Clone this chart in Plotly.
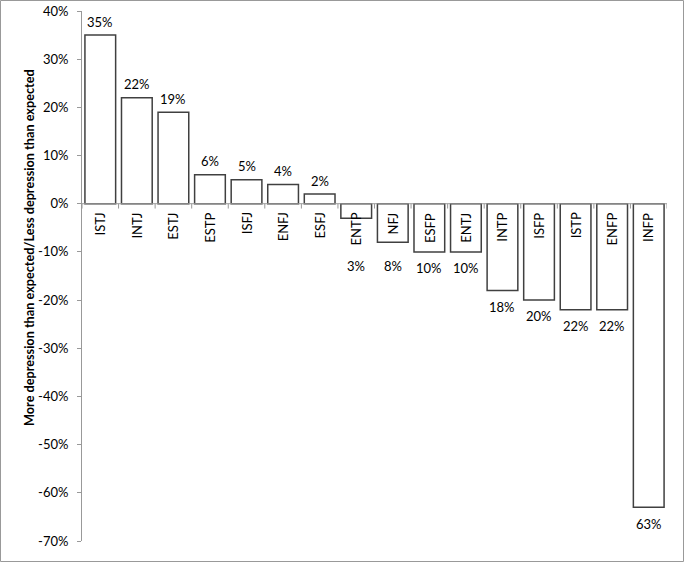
import plotly.graph_objects as go

types = ["ISTJ", "INTJ", "ESTJ", "ESTP", "ISFJ", "ENFJ", "ESFJ", "ENTP",
         "NFJ", "ESFP", "ENTJ", "INTP", "ISFP", "ISTP", "ENFP", "INFP"]
values = [35, 22, 19, 6, 5, 4, 2, -3, -8, -10, -10, -18, -20, -22, -22, -63]
y_ticks = [40, 30, 20, 10, 0, -10, -20, -30, -40, -50, -60, -70]
y_title = "More depression than expected/Less depression than expected"

W, H = 685, 563
L, R, T, B = 82, 18, 11, 22
FONT = "Lato, 'Open Sans', sans-serif"
xs = list(range(len(types)))
pw, ph = W - L - R, H - T - B

fig = go.Figure()
fig.add_trace(go.Bar(
    x=xs, y=values, width=0.84,
    marker=dict(color="white", line=dict(color="#404040", width=1.5)),
    hoverinfo="skip",
))

ann = []
for i, (t, v) in enumerate(zip(types, values)):
    ann.append(dict(x=i, y=0, xref="x", yref="y", text=t, textangle=-90,
                    showarrow=False, xanchor="center", yanchor="top", yshift=-7,
                    font=dict(family=FONT, size=13, color="#000")))
    if v >= 0:
        ly = v + 2.8
    else:
        ly = min(v - 3.4, -13)
    ann.append(dict(x=i, y=ly, xref="x", yref="y", text=f"{abs(v)}%",
                    showarrow=False, xanchor="center", yanchor="middle",
                    font=dict(family=FONT, size=13, color="#000")))

ann.append(dict(x=-(L - 29) / pw, y=(H - B - 248) / ph, xref="paper", yref="paper",
                text=y_title, textangle=-90, showarrow=False,
                xanchor="center", yanchor="middle",
                font=dict(family=FONT, size=12.7, color="#000", weight="bold")))

shapes = []
for k in range(len(types) + 1):
    shapes.append(dict(type="line", xref="x", yref="y", x0=k - 0.5, x1=k - 0.5,
                       y0=0, y1=-1.0, line=dict(color="#999", width=1)))
shapes.append(dict(type="line", xref="x", yref="y", x0=-0.5, x1=len(types) - 0.5,
                   y0=0, y1=0, line=dict(color="#999", width=1)))
shapes.append(dict(type="rect", xref="paper", yref="paper",
                   x0=-(L - 0.5) / pw, x1=1 + (R - 1.5) / pw,
                   y0=-(B - 1.5) / ph, y1=1 + (T - 0.5) / ph,
                   line=dict(color="#999", width=1), fillcolor="rgba(0,0,0,0)", layer="below"))

fig.update_layout(
    width=W, height=H,
    margin=dict(l=L, r=R, t=T, b=B, autoexpand=False),
    paper_bgcolor="white", plot_bgcolor="white",
    showlegend=False,
    annotations=ann, shapes=shapes,
    font=dict(family=FONT, size=13, color="#000"),
    xaxis=dict(range=[-0.5, len(types) - 0.5], showticklabels=False, showgrid=False,
               zeroline=False, showline=False, ticks="", automargin=False),
    yaxis=dict(range=[-70, 40], tickvals=y_ticks, ticktext=[f"{v}%" for v in y_ticks],
               showgrid=False, zeroline=False, showline=True, linecolor="#999", linewidth=1,
               ticks="outside", ticklen=4, tickcolor="#999", ticklabelstandoff=6,
               automargin=False,
               tickfont=dict(family=FONT, size=13, color="#000")),
)

fig.write_html("out.html", config={"displayModeBar": False},
               post_script="document.body.style.margin='0';")
